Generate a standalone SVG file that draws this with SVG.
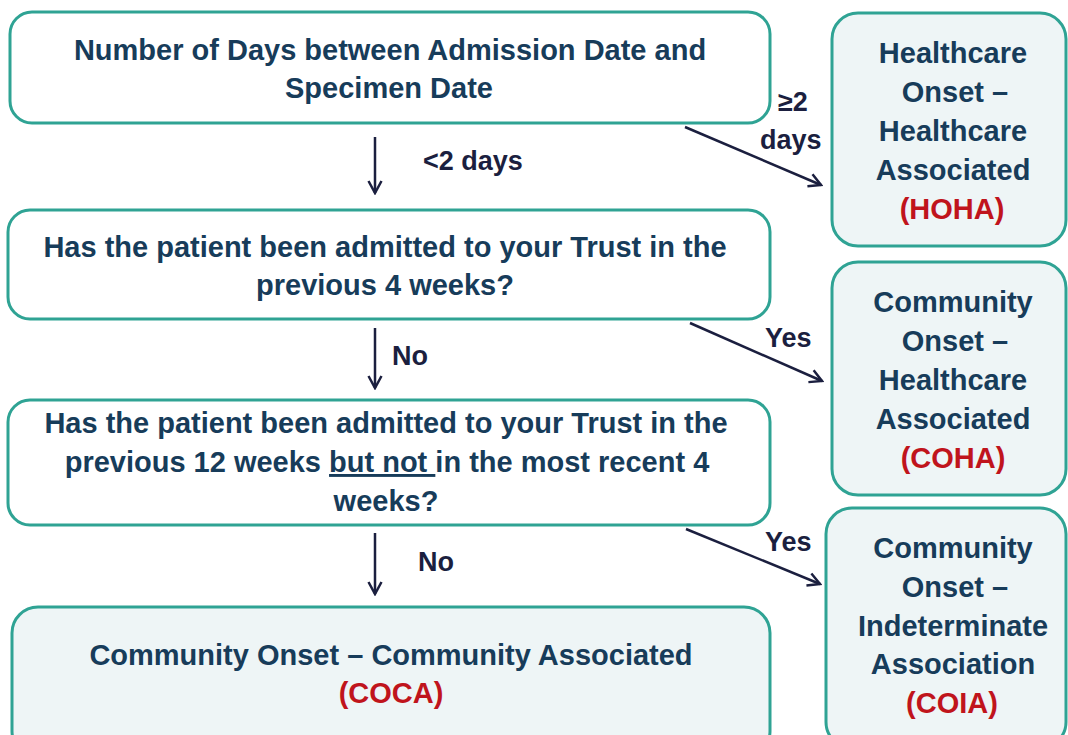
<svg xmlns="http://www.w3.org/2000/svg" width="1068" height="735" viewBox="0 0 1068 735">
<style>
.box{fill:#ffffff;stroke:#2fa394;stroke-width:3}
.tint{fill:#eef5f6;stroke:#2fa394;stroke-width:3}
.t{font-family:"Liberation Sans",Arial,sans-serif;font-weight:bold;font-size:29px;fill:#173c5a;text-anchor:middle}
.red{fill:#c0141c}
.lbl{font-family:"Liberation Sans",Arial,sans-serif;font-weight:bold;font-size:27px;fill:#1b1f3f}
.c{stroke:#1b1f3f;stroke-width:2.5;fill:none}
</style>
<defs>
<marker id="ah" viewBox="0 0 16 16" refX="14" refY="8" markerWidth="16" markerHeight="16" markerUnits="userSpaceOnUse" orient="auto">
<path d="M2,1.5 L14,8 L2,14.5" fill="none" stroke="#1b1f3f" stroke-width="2.5"/>
</marker>
</defs>
<rect width="1068" height="735" fill="#ffffff"/>
<g id="n1">
<rect class="box" x="10" y="12" width="760" height="111" rx="22"/>
<text class="t" x="390" y="60">Number of Days between Admission Date and</text>
<text class="t" x="389" y="98">Specimen Date</text>
</g>
<g id="n2">
<rect class="box" x="8" y="210" width="762" height="109" rx="22"/>
<text class="t" x="385" y="257">Has the patient been admitted to your Trust in the</text>
<text class="t" x="385" y="295">previous 4 weeks?</text>
</g>
<g id="n3">
<rect class="box" x="8" y="400" width="762" height="125" rx="22"/>
<text class="t" x="386" y="433">Has the patient been admitted to your Trust in the</text>
<text class="t" x="387" y="472">previous 12 weeks <tspan text-decoration="underline">but not </tspan>in the most recent 4</text>
<text class="t" x="386" y="511">weeks?</text>
</g>
<g id="n4">
<rect class="tint" x="12" y="607" width="758" height="150" rx="26"/>
<text class="t" x="391" y="665">Community Onset – Community Associated</text>
<text class="t red" x="391" y="703">(COCA)</text>
</g>
<g id="hoha">
<rect class="tint" x="832" y="13" width="234" height="233" rx="26"/>
<text class="t" x="953" y="63">Healthcare</text>
<text class="t" x="955" y="102">Onset –</text>
<text class="t" x="953" y="141">Healthcare</text>
<text class="t" x="953" y="180">Associated</text>
<text class="t red" x="952" y="219">(HOHA)</text>
</g>
<g id="coha">
<rect class="tint" x="832" y="262" width="234" height="233" rx="26"/>
<text class="t" x="953" y="312">Community</text>
<text class="t" x="955" y="351">Onset –</text>
<text class="t" x="953" y="390">Healthcare</text>
<text class="t" x="953" y="429">Associated</text>
<text class="t red" x="953" y="468">(COHA)</text>
</g>
<g id="coia">
<rect class="tint" x="826" y="508" width="240" height="240" rx="26"/>
<text class="t" x="953" y="558">Community</text>
<text class="t" x="955" y="597">Onset –</text>
<text class="t" x="953" y="636">Indeterminate</text>
<text class="t" x="953" y="674">Association</text>
<text class="t red" x="952" y="713">(COIA)</text>
</g>
<g id="connectors">
<line class="c" x1="375" y1="137" x2="375" y2="193" marker-end="url(#ah)"/>
<line class="c" x1="375" y1="328" x2="375" y2="388" marker-end="url(#ah)"/>
<line class="c" x1="375" y1="533" x2="375" y2="594" marker-end="url(#ah)"/>
<line class="c" x1="685" y1="127" x2="821" y2="185" marker-end="url(#ah)"/>
<line class="c" x1="690" y1="323" x2="822" y2="381" marker-end="url(#ah)"/>
<line class="c" x1="686" y1="529" x2="820" y2="584" marker-end="url(#ah)"/>
<text class="lbl" x="423" y="170">&lt;2 days</text>
<text class="lbl" x="392" y="365">No</text>
<text class="lbl" x="418" y="571">No</text>
<text class="lbl" x="778" y="111">≥2</text>
<text class="lbl" x="760" y="149">days</text>
<text class="lbl" x="765" y="347">Yes</text>
<text class="lbl" x="765" y="551">Yes</text>
</g>
</svg>
